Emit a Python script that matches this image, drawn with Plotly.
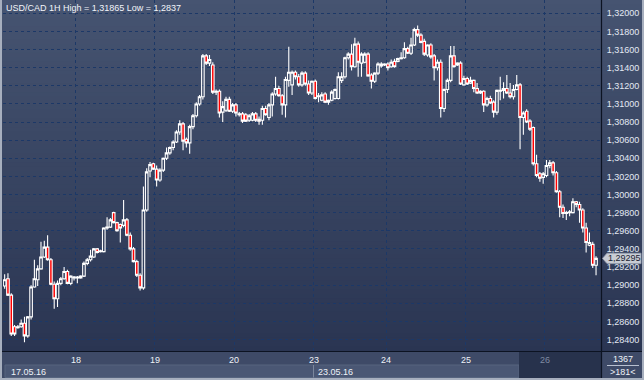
import plotly.graph_objects as go

# ---------------- data (USD/CAD, 1H bars) ----------------
bar_open = [
    1.2899, 1.2907, 1.2889, 1.2854, 1.2853, 1.2854, 1.2858, 1.2844, 1.2865, 1.2898,
    1.2906, 1.2918, 1.2931, 1.2942, 1.2928, 1.2901, 1.2885, 1.2902, 1.2907, 1.2915,
    1.2902, 1.2908, 1.2909, 1.2908, 1.2910, 1.2924, 1.2928, 1.2931, 1.2940, 1.2938,
    1.2937, 1.2963, 1.2964, 1.2980, 1.2969, 1.2967, 1.2966, 1.2972, 1.2955, 1.2940,
    1.2926, 1.2911, 1.2897, 1.2983, 1.3026, 1.3034, 1.3028, 1.3016, 1.3027, 1.3040,
    1.3046, 1.3052, 1.3058, 1.3069, 1.3078, 1.3061, 1.3057, 1.3075, 1.3087, 1.3100,
    1.3108, 1.3153, 1.3145, 1.3143, 1.3113, 1.3114, 1.3091, 1.3093, 1.3105, 1.3092,
    1.3099, 1.3088, 1.3089, 1.3088, 1.3082, 1.3082, 1.3089, 1.3083, 1.3082, 1.3095,
    1.3085, 1.3099, 1.3111, 1.3117, 1.3109, 1.3099, 1.3126, 1.3121, 1.3135, 1.3130,
    1.3121, 1.3134, 1.3122, 1.3112, 1.3125, 1.3109, 1.3104, 1.3111, 1.3102, 1.3104,
    1.3106, 1.3106, 1.3126, 1.3130, 1.3151, 1.3155, 1.3141, 1.3166, 1.3145, 1.3146,
    1.3155, 1.3132, 1.3125, 1.3134, 1.3142, 1.3144, 1.3144, 1.3141, 1.3147, 1.3147,
    1.3150, 1.3151, 1.3161, 1.3156, 1.3165, 1.3182, 1.3176, 1.3169, 1.3154, 1.3165,
    1.3153, 1.3140, 1.3146, 1.3095, 1.3116, 1.3126, 1.3153, 1.3143, 1.3145, 1.3121,
    1.3128, 1.3123, 1.3126, 1.3117, 1.3112, 1.3114, 1.3099, 1.3106, 1.3102, 1.3091,
    1.3114, 1.3115, 1.3117, 1.3112, 1.3108, 1.3116, 1.3121, 1.3085, 1.3092, 1.3081,
    1.3074, 1.3034, 1.3023, 1.3019, 1.3021, 1.3032, 1.3035, 1.3024, 1.3003, 1.2986,
    1.2979, 1.2980, 1.2980, 1.2992, 1.2989, 1.2983, 1.2963, 1.2944, 1.2945, 1.2922,
]
bar_high = [
    1.2912, 1.2913, 1.2891, 1.2856, 1.2856, 1.2862, 1.2865, 1.2866, 1.2900, 1.2928,
    1.2922, 1.2948, 1.2949, 1.2955, 1.2930, 1.2904, 1.2905, 1.2909, 1.2920, 1.2917,
    1.2911, 1.2910, 1.2910, 1.2911, 1.2926, 1.2930, 1.2939, 1.2941, 1.2941, 1.2939,
    1.2964, 1.2975, 1.2974, 1.2981, 1.2970, 1.2968, 1.2994, 1.2974, 1.2958, 1.2942,
    1.2928, 1.2913, 1.3009, 1.3029, 1.3036, 1.3035, 1.3032, 1.3029, 1.3041, 1.3052,
    1.3053, 1.3060, 1.3071, 1.3082, 1.3080, 1.3063, 1.3077, 1.3089, 1.3102, 1.3110,
    1.3155, 1.3155, 1.3154, 1.3146, 1.3116, 1.3116, 1.3103, 1.3108, 1.3108, 1.3101,
    1.3101, 1.3091, 1.3091, 1.3090, 1.3089, 1.3091, 1.3091, 1.3086, 1.3098, 1.3098,
    1.3101, 1.3113, 1.3130, 1.3120, 1.3111, 1.3130, 1.3163, 1.3137, 1.3137, 1.3133,
    1.3136, 1.3136, 1.3126, 1.3126, 1.3127, 1.3112, 1.3113, 1.3113, 1.3105, 1.3115,
    1.3117, 1.3135, 1.3135, 1.3152, 1.3157, 1.3166, 1.3173, 1.3169, 1.3157, 1.3157,
    1.3157, 1.3134, 1.3135, 1.3146, 1.3146, 1.3145, 1.3146, 1.3149, 1.3150, 1.3151,
    1.3157, 1.3168, 1.3163, 1.3173, 1.3184, 1.31865, 1.3178, 1.3172, 1.3166, 1.3167,
    1.3155, 1.3149, 1.3149, 1.3117, 1.3128, 1.3164, 1.3164, 1.3146, 1.3147, 1.3131,
    1.3130, 1.3130, 1.3127, 1.3123, 1.3115, 1.3115, 1.3108, 1.3109, 1.3104, 1.3116,
    1.3130, 1.3124, 1.3132, 1.3123, 1.3121, 1.3132, 1.3123, 1.3092, 1.3094, 1.3083,
    1.3075, 1.3044, 1.3025, 1.3025, 1.3038, 1.3038, 1.3037, 1.3026, 1.3005, 1.2989,
    1.2982, 1.2983, 1.2996, 1.2993, 1.2992, 1.2985, 1.2969, 1.2958, 1.2948, 1.2932,
]
bar_low = [
    1.2896, 1.2888, 1.2844, 1.2844, 1.2852, 1.2853, 1.2837, 1.2842, 1.2862, 1.2897,
    1.2899, 1.2917, 1.2930, 1.2927, 1.2900, 1.2874, 1.2876, 1.2900, 1.2906, 1.2901,
    1.2900, 1.2905, 1.2902, 1.2907, 1.2909, 1.2922, 1.2926, 1.2930, 1.2935, 1.2936,
    1.2936, 1.2961, 1.2963, 1.2968, 1.2959, 1.2947, 1.2964, 1.2954, 1.2938, 1.2925,
    1.2909, 1.2894, 1.2895, 1.2981, 1.3019, 1.3027, 1.3009, 1.3014, 1.3025, 1.3038,
    1.3044, 1.3049, 1.3057, 1.3066, 1.3049, 1.3052, 1.3045, 1.3072, 1.3085, 1.3098,
    1.3105, 1.3143, 1.3142, 1.3111, 1.3110, 1.3085, 1.3080, 1.3091, 1.3091, 1.3090,
    1.3086, 1.3086, 1.3079, 1.3080, 1.3080, 1.3081, 1.3080, 1.3077, 1.3077, 1.3087,
    1.3082, 1.3086, 1.3109, 1.3108, 1.3088, 1.3085, 1.3119, 1.3110, 1.3127, 1.3119,
    1.3119, 1.3120, 1.3110, 1.3110, 1.3105, 1.3102, 1.3103, 1.3101, 1.3099, 1.3103,
    1.3105, 1.3105, 1.3123, 1.3128, 1.3149, 1.3137, 1.3140, 1.3130, 1.3130, 1.3145,
    1.3130, 1.3117, 1.3123, 1.3132, 1.3140, 1.3142, 1.3137, 1.3140, 1.3140, 1.3146,
    1.3149, 1.3150, 1.3155, 1.3154, 1.3164, 1.3174, 1.3167, 1.3153, 1.3152, 1.3150,
    1.3126, 1.3137, 1.3085, 1.3091, 1.3112, 1.3124, 1.3140, 1.3142, 1.3121, 1.3120,
    1.3121, 1.3122, 1.3113, 1.3111, 1.3111, 1.3091, 1.3097, 1.3100, 1.3085, 1.3088,
    1.3104, 1.3106, 1.3111, 1.3106, 1.3105, 1.3115, 1.3050, 1.3066, 1.3079, 1.3070,
    1.3032, 1.3019, 1.3014, 1.3012, 1.3019, 1.3029, 1.3021, 1.3002, 1.2975, 1.2974,
    1.2972, 1.2976, 1.2979, 1.2986, 1.2969, 1.2958, 1.2936, 1.2943, 1.2919, 1.2911,
]
bar_close = [
    1.2906, 1.2889, 1.2846, 1.2846, 1.2854, 1.2858, 1.2844, 1.2865, 1.2898, 1.2907,
    1.2918, 1.2931, 1.2942, 1.2928, 1.2901, 1.2885, 1.2902, 1.2907, 1.2915, 1.2902,
    1.2910, 1.2909, 1.2908, 1.2910, 1.2924, 1.2928, 1.2932, 1.2940, 1.2936, 1.2937,
    1.2963, 1.2964, 1.2972, 1.2969, 1.2960, 1.2963, 1.2972, 1.2955, 1.2940, 1.2926,
    1.2911, 1.2897, 1.2983, 1.3025, 1.3033, 1.3028, 1.3016, 1.3027, 1.3040, 1.3046,
    1.3052, 1.3058, 1.3069, 1.3078, 1.3059, 1.3057, 1.3075, 1.3087, 1.3100, 1.3108,
    1.3153, 1.3145, 1.3149, 1.3113, 1.3114, 1.3090, 1.3097, 1.3105, 1.3092, 1.3099,
    1.3090, 1.3089, 1.3081, 1.3081, 1.3087, 1.3089, 1.3082, 1.3081, 1.3095, 1.3088,
    1.3099, 1.3111, 1.3117, 1.3109, 1.3099, 1.3127, 1.3135, 1.3135, 1.3130, 1.3121,
    1.3134, 1.3122, 1.3112, 1.3125, 1.3106, 1.3108, 1.3110, 1.3102, 1.3104, 1.3113,
    1.3116, 1.3130, 1.3130, 1.3151, 1.3155, 1.3141, 1.3166, 1.3146, 1.3155, 1.3155,
    1.3131, 1.3125, 1.3134, 1.3144, 1.3144, 1.3143, 1.3140, 1.3146, 1.3141, 1.3150,
    1.3151, 1.3161, 1.3156, 1.3165, 1.3182, 1.3176, 1.3168, 1.3155, 1.3165, 1.3152,
    1.3140, 1.3146, 1.3095, 1.3116, 1.3126, 1.3153, 1.3141, 1.3145, 1.3122, 1.3128,
    1.3122, 1.3126, 1.3117, 1.3112, 1.3114, 1.3099, 1.3106, 1.3101, 1.3091, 1.3115,
    1.3115, 1.3117, 1.3112, 1.3108, 1.3116, 1.3121, 1.3085, 1.3090, 1.3080, 1.3072,
    1.3034, 1.3021, 1.3018, 1.3023, 1.3032, 1.3035, 1.3024, 1.3003, 1.2986, 1.2979,
    1.2980, 1.2981, 1.2992, 1.2989, 1.2983, 1.2963, 1.2947, 1.2947, 1.2922, 1.29295,
]
# first bar index of each trading day and its label
day_start = [22, 46, 70, 94, 116, 140, 164]
day_labels = ["18", "19", "20", "23", "24", "25", "26"]
price_ticks = [1.284, 1.286, 1.288, 1.290, 1.292, 1.294, 1.296, 1.298, 1.300, 1.302,
               1.304, 1.306, 1.308, 1.310, 1.312, 1.314, 1.316, 1.318, 1.320]
title_text = "USD/CAD 1H High = 1,31865 Low = 1,2837"
last_price = 1.29295
last_price_text = "1,29295"
date_texts = ["17.05.16", "23.05.16"]
total_bars_text = "1367"
visible_bars_text = ">181<"

# ---------------- layout geometry ----------------
W, H = 644, 380
ML, MR, MT, MB = 3, 43, 0, 29
PW = W - ML - MR
PH = H - MT - MB
FONT = "Liberation Sans, Arial, sans-serif"


def fx(px):
    return (px - ML) / PW


def fy(py):
    return (H - MB - py) / PH


x_idx = list(range(len(bar_open)))

fig = go.Figure(go.Candlestick(
    x=x_idx, open=bar_open, high=bar_high, low=bar_low, close=bar_close,
    increasing=dict(line=dict(color="#ffffff", width=1.1), fillcolor="rgba(0,0,0,0)"),
    decreasing=dict(line=dict(color="#ffffff", width=1.1), fillcolor="#ff0000"),
    whiskerwidth=0, hoverinfo="skip", showlegend=False,
))

shapes = []
# background gradient (plot area + right price panel)
top_c = (70, 84, 113)
bot_c = (42, 53, 82)
n = 80
for i in range(n):
    t = (i + 0.5) / n
    c = tuple(round(top_c[k] + (bot_c[k] - top_c[k]) * t) for k in range(3))
    y0 = PH * i / n
    y1 = PH * (i + 1) / n + 0.6
    shapes.append(dict(type="rect", xref="paper", yref="paper",
                       x0=fx(0), x1=fx(W), y0=fy(y0), y1=fy(min(y1, PH)),
                       fillcolor="rgb(%d,%d,%d)" % c, line_width=0, layer="below"))
# bottom time-axis band
shapes.append(dict(type="rect", xref="paper", yref="paper", x0=fx(0), x1=fx(W),
                   y0=fy(H), y1=fy(PH), fillcolor="#3e4a67", line_width=0, layer="below"))
# date strip
shapes.append(dict(type="rect", xref="paper", yref="paper", x0=fx(5), x1=fx(519),
                   y0=fy(377.5), y1=fy(365), fillcolor="#4a5774",
                   line=dict(color="#56647f", width=1), layer="below"))
shapes.append(dict(type="line", xref="paper", yref="paper", x0=fx(313.5), x1=fx(313.5),
                   y0=fy(377.5), y1=fy(365), line=dict(color="#7a869c", width=1), layer="below"))
# current-day dark block
shapes.append(dict(type="rect", xref="paper", yref="paper", x0=fx(519), x1=fx(601),
                   y0=fy(378), y1=fy(352), fillcolor="#27324c", line_width=0, layer="below"))
# separators
shapes.append(dict(type="line", xref="paper", yref="paper", x0=fx(0), x1=fx(W),
                   y0=fy(351.5), y1=fy(351.5), line=dict(color="#0c1322", width=1.2), layer="below"))
shapes.append(dict(type="line", xref="paper", yref="paper", x0=fx(601.5), x1=fx(601.5),
                   y0=fy(0), y1=fy(H), line=dict(color="#0c1322", width=1.2), layer="below"))
# bar-count box line
shapes.append(dict(type="line", xref="paper", yref="paper", x0=fx(607), x1=fx(639),
                   y0=fy(365.5), y1=fy(365.5), line=dict(color="#b8c0d0", width=1), layer="below"))
# outer light border (left, bottom, right)
for (a, b, c_, d) in [(0, 0, 2, H), (0, H - 2, W, H), (W - 2, 0, W, H)]:
    shapes.append(dict(type="rect", xref="paper", yref="paper", x0=fx(a), x1=fx(c_),
                       y0=fy(d), y1=fy(b), fillcolor="#a7afbe", line_width=0, layer="above"))
# last price tag (pointer shape in price coordinates)
tag_half = 5.2 / 9060
shapes.append(dict(type="path", xref="paper", yref="y",
                   path=("M {a},{m} L {b},{t} L {c},{t} L {c},{bt} L {b},{bt} Z").format(
                       a=fx(602.5), b=fx(607), c=fx(641), m=last_price,
                       t=last_price + tag_half, bt=last_price - tag_half),
                   fillcolor="#c8ccd4", line=dict(color="#9aa2b2", width=0.8), layer="above"))

annotations = [
    dict(text=title_text, xref="paper", yref="paper", x=fx(4), y=fy(7.5),
         xanchor="left", yanchor="middle", showarrow=False,
         font=dict(family=FONT, size=9, color="#f2f5fa")),
    dict(text=last_price_text, xref="paper", yref="y", x=fx(624), y=last_price,
         xanchor="center", yanchor="middle", showarrow=False,
         font=dict(family=FONT, size=9, color="#1a2232")),
    dict(text=date_texts[0], xref="paper", yref="paper", x=fx(9), y=fy(371.5),
         xanchor="left", yanchor="middle", showarrow=False,
         font=dict(family=FONT, size=9, color="#eef2f8")),
    dict(text=date_texts[1], xref="paper", yref="paper", x=fx(316), y=fy(371.5),
         xanchor="left", yanchor="middle", showarrow=False,
         font=dict(family=FONT, size=9, color="#eef2f8")),
    dict(text=total_bars_text, xref="paper", yref="paper", x=fx(623), y=fy(359),
         xanchor="center", yanchor="middle", showarrow=False,
         font=dict(family=FONT, size=9, color="#eef2f8")),
    dict(text=visible_bars_text, xref="paper", yref="paper", x=fx(623), y=fy(372),
         xanchor="center", yanchor="middle", showarrow=False,
         font=dict(family=FONT, size=9, color="#eef2f8")),
]
for i, (ds, lab) in enumerate(zip(day_start, day_labels)):
    col = "#7f8ba2" if i == len(day_labels) - 1 else "#eef2f8"
    annotations.append(dict(text=lab, xref="x", yref="paper", x=ds - 0.5, y=fy(359.5),
                            xanchor="center", yanchor="middle", showarrow=False,
                            font=dict(family=FONT, size=9, color=col)))

grid_col = "#1c3867"
fig.update_layout(
    width=W, height=H,
    margin=dict(l=ML, r=MR, t=MT, b=MB, pad=0),
    paper_bgcolor="#3e4a67", plot_bgcolor="rgba(0,0,0,0)",
    separators=",.",
    showlegend=False,
    boxgap=0.22, boxgroupgap=0.0,
    shapes=shapes, annotations=annotations,
    xaxis=dict(range=[-0.5, len(bar_open) + 0.5], rangeslider=dict(visible=False),
               tickvals=[d - 0.5 for d in day_start], showticklabels=False,
               showgrid=True, gridcolor=grid_col, gridwidth=1, griddash="3px,3px",
               zeroline=False, showline=False, ticks="", fixedrange=True),
    yaxis=dict(side="right", range=[1.282731, 1.321472], tickvals=price_ticks,
               tickformat=".5f", ticks="outside", ticklen=3, tickcolor="rgba(0,0,0,0)",
               tickfont=dict(family=FONT, size=9, color="#e3e9f3"),
               showgrid=True, gridcolor=grid_col, gridwidth=1, griddash="3px,3px",
               zeroline=False, showline=False, fixedrange=True),
)

fig.write_html("out.html", config={"displayModeBar": False})
